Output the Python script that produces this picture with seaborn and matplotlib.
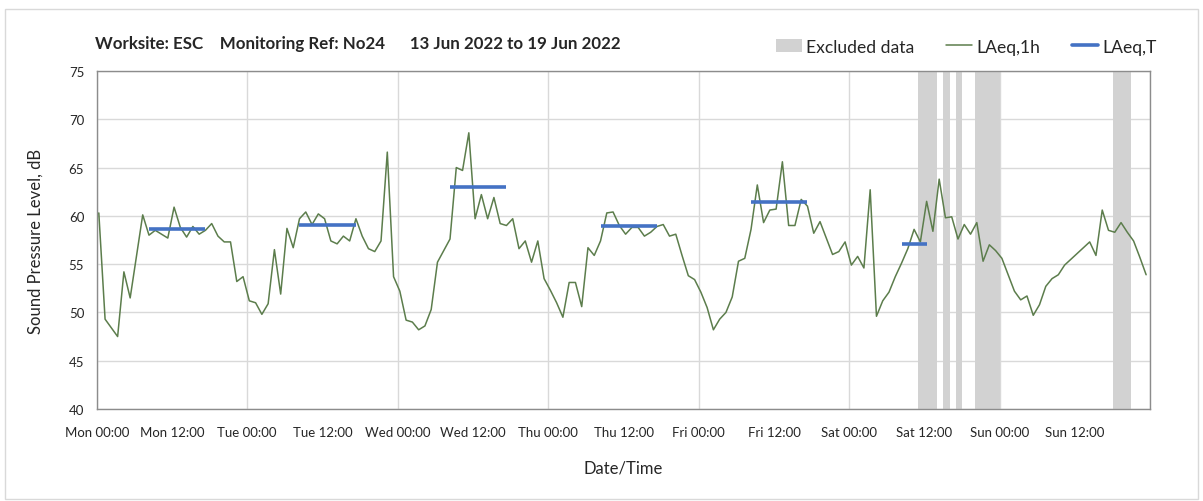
import pandas as pd
import matplotlib
matplotlib.use("Agg")
import matplotlib.pyplot as plt
import matplotlib.dates as mdates
from matplotlib.patches import Patch, Rectangle
from matplotlib.lines import Line2D
import seaborn as sns

# hourly LAeq,1h values, Mon 13 Jun 00:00 onwards
mon = [60.3, 49.3, 48.4, 47.5, 54.2, 51.5, 55.8, 60.1, 58.0, 58.5, 58.1, 57.7,
       60.9, 58.8, 57.8, 58.9, 58.1, 58.5, 59.2, 57.9, 57.3, 57.3, 53.2, 53.7]
tue = [51.2, 51.0, 49.8, 50.9, 56.5, 51.9, 58.7, 56.7, 59.7, 60.4, 59.1, 60.2,
       59.7, 57.4, 57.1, 57.9, 57.4, 59.7, 57.9, 56.6, 56.3, 57.4, 66.6, 53.7]
wed = [52.2, 49.2, 49.0, 48.2, 48.6, 50.3, 55.2, 56.4, 57.6, 65.0, 64.7, 68.6,
       59.7, 62.2, 59.7, 61.9, 59.2, 59.0, 59.7, 56.6, 57.4, 55.2, 57.4, 53.5]
thu = [52.3, 51.0, 49.5, 53.1, 53.1, 50.6, 56.7, 55.9, 57.4, 60.3, 60.4, 59.0,
       58.1, 58.8, 58.8, 57.9, 58.3, 58.9, 59.1, 57.9, 58.1, 55.9, 53.8, 53.4]
fri = [52.1, 50.5, 48.2, 49.3, 50.0, 51.6, 55.3, 55.6, 58.6, 63.2, 59.3, 60.6,
       60.7, 65.6, 59.0, 59.0, 61.7, 61.0, 58.2, 59.4, 57.7, 56.0, 56.3, 57.3]
sat = [54.9, 55.8, 54.6, 62.7, 49.6, 51.2, 52.1, 53.7, 55.1, 56.6, 58.6, 57.3,
       61.5, 58.4, 63.8, 59.8, 59.9, 57.6, 59.1, 58.1, 59.3, 55.3, 57.0, 56.4]
sun = [55.6, 53.9, 52.2, 51.3, 51.7, 49.7, 50.8, 52.7, 53.5, 53.9, 54.9, 55.5,
       56.1, 56.7, 57.3, 55.9, 60.6, 58.5, 58.3, 59.3, 58.3, 57.4, 55.7, 53.9]

# LAeq,T over the working periods
period_start = ["2022-06-13 08:20", "2022-06-14 08:20", "2022-06-15 08:20",
                "2022-06-16 08:20", "2022-06-17 08:20", "2022-06-18 08:20"]
period_end = ["2022-06-13 17:20", "2022-06-14 17:20", "2022-06-15 17:20",
              "2022-06-16 17:20", "2022-06-17 17:20", "2022-06-18 12:20"]
laeq_t = [58.6, 59.0, 63.0, 58.9, 61.4, 57.1]

# excluded periods
excl_start = ["2022-06-18 11:00", "2022-06-18 15:00", "2022-06-18 17:00",
              "2022-06-18 20:00", "2022-06-19 18:00"]
excl_end = ["2022-06-18 14:00", "2022-06-18 16:00", "2022-06-18 18:00",
            "2022-06-19 00:00", "2022-06-19 21:00"]

levels = mon + tue + wed + thu + fri + sat + sun
df = pd.DataFrame({
    "time": pd.date_range("2022-06-13 00:20", periods=len(levels), freq="h"),
    "LAeq,1h": levels,
})

t0 = pd.Timestamp("2022-06-13 00:00")
t1 = pd.Timestamp("2022-06-20 00:00")

sns.set_theme(style="white")
plt.rcParams["font.family"] = ["Lato", "DejaVu Sans"]

green = "#5c7d4c"
blue = "#4472c4"
grey = "#d2d2d2"

fig = plt.figure(figsize=(12.03, 5.02), dpi=100)
ax = fig.add_axes([0.0804, 0.1833, 0.8758, 0.6733])

for s, e in zip(excl_start, excl_end):
    ax.axvspan(pd.Timestamp(s), pd.Timestamp(e), color=grey, lw=0, zorder=1)

sns.lineplot(data=df, x="time", y="LAeq,1h", color=green, linewidth=1.1,
             ax=ax, zorder=3)

ax.hlines(laeq_t, pd.to_datetime(period_start), pd.to_datetime(period_end),
          color=blue, linewidth=2.6, zorder=4)

ax.set_xlim(t0, t1)
ax.set_ylim(40, 75)
ax.set_yticks(range(40, 76, 5))

# day boundaries get long ticks + grid, noon gets short ticks; last boundary unlabeled
days = pd.date_range(t0, t1, freq="D")
noons = pd.date_range("2022-06-13 12:00", periods=7, freq="D")
ax.set_xticks(days)
ax.set_xticklabels([d.strftime("%a %H:%M") for d in days[:-1]] + [""])
ax.set_xticks(noons, minor=True)
ax.set_xticklabels([d.strftime("%a %H:%M") for d in noons], minor=True)

ax.grid(True, which="major", color="#d9d9d9", linewidth=1.0, zorder=0)
ax.set_axisbelow(True)
for sp in ax.spines.values():
    sp.set_color("#8c8c8c")
    sp.set_linewidth(1.0)

ax.tick_params(axis="x", which="major", direction="out", length=7, width=1,
               color="#8c8c8c", labelsize=9.5, pad=5)
ax.tick_params(axis="x", which="minor", direction="out", length=4, width=1,
               color="#8c8c8c", labelsize=9.5, pad=8)
ax.tick_params(axis="y", direction="out", length=6, width=1, color="#8c8c8c",
               labelsize=9.5, pad=3)

ax.set_xlabel("Date/Time", fontsize=12, labelpad=16)
ax.set_ylabel("Sound Pressure Level, dB", fontsize=12, labelpad=18)

fig.text(0.079, 0.912, "Worksite: ESC    Monitoring Ref: No24      13 Jun 2022 to 19 Jun 2022",
         fontsize=12.2, fontweight="bold", ha="left", va="center")

handles = [Patch(facecolor=grey, edgecolor="none"),
           Line2D([], [], color=green, linewidth=1.1),
           Line2D([], [], color=blue, linewidth=2.6)]
fig.legend(handles, ["Excluded data", "LAeq,1h", "LAeq,T"], loc="center right",
           bbox_to_anchor=(0.975, 0.905), ncol=3, frameon=False, fontsize=12.6,
           handlelength=1.5, handleheight=0.8, handletextpad=0.25, columnspacing=1.8)

fig.patches.append(Rectangle((0.004, 0.004), 0.992, 0.976, transform=fig.transFigure,
                             fill=False, edgecolor="#d9d9d9", linewidth=1.0))

fig.savefig("out.png", dpi=100, facecolor="white")
